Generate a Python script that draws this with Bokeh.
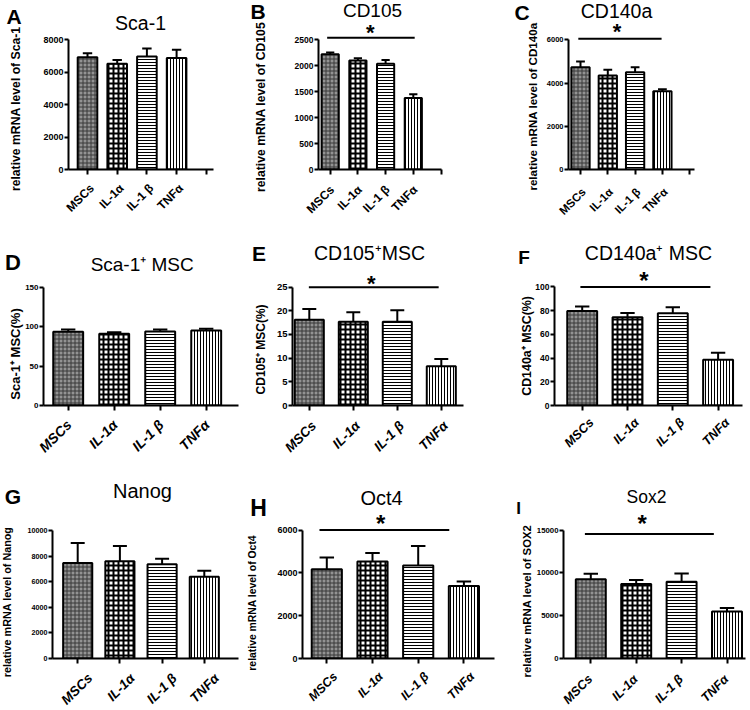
import math
from bokeh.plotting import figure
from bokeh.layouts import column, row
from bokeh.models import FixedTicker, Range1d
from bokeh.core.properties import value
from bokeh.embed import file_html
from bokeh.resources import INLINE

# ---------------- data ----------------
categories = ["MSCs", "IL-1α", "IL-1 β", "TNFα"]

sca1_mrna = [6920, 6520, 6960, 6870]
sca1_mrna_err = [240, 220, 500, 510]
sca1_mrna_ticks = [0, 2000, 4000, 6000, 8000]

cd105_mrna = [2220, 2100, 2035, 1375]
cd105_mrna_err = [35, 45, 75, 75]
cd105_mrna_ticks = [0, 500, 1000, 1500, 2000, 2500]

cd140a_mrna = [4730, 4350, 4500, 3620]
cd140a_mrna_err = [270, 260, 230, 90]
cd140a_mrna_ticks = [0, 2000, 4000, 6000]

sca1_pct = [93.8, 91.0, 94.0, 95.2]
sca1_pct_err = [2.6, 2.0, 2.4, 2.3]
sca1_pct_ticks = [0, 50, 100, 150]

cd105_pct = [18.1, 17.7, 17.7, 8.3]
cd105_pct_err = [2.3, 2.0, 2.4, 1.5]
cd105_pct_ticks = [0, 5, 10, 15, 20, 25]

cd140a_pct = [79.7, 74.4, 77.9, 38.7]
cd140a_pct_err = [3.8, 3.7, 5.1, 5.8]
cd140a_pct_ticks = [0, 20, 40, 60, 80, 100]

nanog = [7450, 7600, 7360, 6380]
nanog_err = [1570, 1180, 440, 470]
nanog_ticks = [0, 2000, 4000, 6000, 8000, 10000]

oct4 = [4170, 4530, 4340, 3390]
oct4_err = [550, 400, 920, 210]
oct4_ticks = [0, 2000, 4000, 6000]

sox2 = [9280, 8700, 8990, 5500]
sox2_err = [620, 470, 950, 400]
sox2_ticks = [0, 5000, 10000, 15000]

# significance bars (MSCs vs TNFα): level in data units
sig_levels = {"B": 2540, "C": 6045, "E": 25, "F": 100, "H": 6000, "I": 14560}
sig_text = "*"

panels = [
    dict(key="A", title="Sca-1", ylabel="relative mRNA level of Sca-1",
         values=sca1_mrna, errors=sca1_mrna_err, yticks=sca1_mrna_ticks),
    dict(key="B", title="CD105", ylabel="relative mRNA level of CD105",
         values=cd105_mrna, errors=cd105_mrna_err, yticks=cd105_mrna_ticks),
    dict(key="C", title="CD140a", ylabel="relative mRNA level of CD140a",
         values=cd140a_mrna, errors=cd140a_mrna_err, yticks=cd140a_mrna_ticks),
    dict(key="D", title="Sca-1⁺ MSC", ylabel="Sca-1⁺ MSC(%)",
         values=sca1_pct, errors=sca1_pct_err, yticks=sca1_pct_ticks),
    dict(key="E", title="CD105⁺MSC", ylabel="CD105⁺ MSC(%)",
         values=cd105_pct, errors=cd105_pct_err, yticks=cd105_pct_ticks),
    dict(key="F", title="CD140a⁺ MSC", ylabel="CD140a⁺ MSC(%)",
         values=cd140a_pct, errors=cd140a_pct_err, yticks=cd140a_pct_ticks),
    dict(key="G", title="Nanog", ylabel="relative mRNA level of Nanog",
         values=nanog, errors=nanog_err, yticks=nanog_ticks),
    dict(key="H", title="Oct4", ylabel="relative mRNA level of Oct4",
         values=oct4, errors=oct4_err, yticks=oct4_ticks),
    dict(key="I", title="Sox2", ylabel="relative mRNA level of SOX2",
         values=sox2, errors=sox2_err, yticks=sox2_ticks),
]

# ---------------- layout / style ----------------
FONT = "Liberation Sans"
COL_OFS = [0, 247, 499]
COL_W = [247, 252, 251]
ROW_OFS = [0, 236, 472]
ROW_H = [236, 236, 238]

LAYOUT = {
    "A": dict(col=0, row=0, axis_x=68.3, zero_y=172.7, top_y=38.3, c1=87.0, dx=29.7, x_end=213.0, nt=5, barw=0.66,
              letter=(13.5, 14, 21), title=(140, 21.5, 19.5), ylab=(15, 110, 12.2), tick=9,
              cat=12, cat_style="bold", catoff=(3, 16)),
    "B": dict(col=1, row=0, axis_x=317.7, zero_y=172.0, top_y=39.3, c1=329.7, dx=27.7, x_end=441.0, nt=5, barw=0.62,
              letter=(257.5, 10.5, 21), title=(372, 9.5, 19), ylab=(260, 108, 12.2), tick=8.5,
              cat=12, cat_style="bold", catoff=(0.5, 17),
              span=(-0.11, 0.05), star=(2.45, 6.6, 22)),
    "C": dict(col=2, row=0, axis_x=567.7, zero_y=169.0, top_y=39.3, c1=580.0, dx=27.3, x_end=694.3, nt=5, barw=0.67,
              letter=(521.5, 11.5, 21), title=(616, 10, 19.5), ylab=(531.7, 106, 11.6), tick=7.5,
              cat=11.5, cat_style="bold", catoff=(1.7, 19)),
    "D": dict(col=0, row=1, axis_x=43.3, zero_y=405.0, top_y=274.3, c1=67.7, dx=46.0, x_end=238.0, nt=4, barw=0.65,
              letter=(12.5, 247, 22), title=(141.7, 248.5, 19), ylab=(15, 348, 13), tick=8,
              cat=14, cat_style="bold italic", catoff=(-0.7, 17)),
    "E": dict(col=1, row=1, axis_x=291.7, zero_y=406.7, top_y=286.7, c1=308.8, dx=44.0, x_end=463.3, nt=4, barw=0.66,
              letter=(258.5, 252.5, 21), title=(369, 251.5, 19.5), ylab=(260, 350, 12), tick=9.5,
              cat=13.5, cat_style="bold italic", catoff=(3, 17),
              span=(-0.01, -0.06), star=(2.41, 5.7, 22)),
    "F": dict(col=2, row=1, axis_x=554.3, zero_y=410.7, top_y=285.7, c1=581.7, dx=45.3, x_end=741.7, nt=4, barw=0.66,
              letter=(523.5, 254.5, 19), title=(648, 250, 19.5), ylab=(526.7, 348, 12.4), tick=8.5,
              cat=12.7, cat_style="bold italic", catoff=(8, 14.5),
              span=(-0.04, -0.17), star=(2.36, 9, 24)),
    "G": dict(col=0, row=2, axis_x=51.7, zero_y=659.0, top_y=530.0, c1=77.2, dx=42.2, x_end=238.3, nt=4, barw=0.69,
              letter=(12.5, 495.5, 21), title=(142, 490, 20), ylab=(6.5, 602, 10.8), tick=7.2,
              cat=13.5, cat_style="bold italic", catoff=(11, 16)),
    "H": dict(col=1, row=2, axis_x=302.3, zero_y=661.7, top_y=519.0, c1=326.3, dx=45.7, x_end=494.0, nt=4, barw=0.66,
              letter=(258, 494, 23), title=(381, 483.5, 20), ylab=(252, 600, 10.4), tick=9,
              cat=12.5, cat_style="bold italic", catoff=(7, 16.5),
              span=(-0.16, -0.32), star=(2.18, 9.7, 24)),
    "I": dict(col=2, row=2, axis_x=563.3, zero_y=658.3, top_y=521.0, c1=590.3, dx=45.4, x_end=745.0, nt=4, barw=0.66,
              letter=(518, 497.5, 17), title=(646, 485, 17.5), ylab=(526.7, 596.7, 11.3), tick=7.8,
              cat=12.7, cat_style="bold italic", catoff=(-2, 18),
              span=(-0.13, -0.29), star=(2.13, 13.3, 24)),
}
LAYOUT["C"].update(span=(-0.08, -0.03), star=(2.34, 9, 22))

BAR_STYLES = [
    dict(fill_color="#939393", hatch_pattern="cross", hatch_color="#383838", hatch_scale=4, hatch_weight=1),
    dict(fill_color="white", hatch_pattern="cross", hatch_color="black", hatch_scale=5, hatch_weight=2),
    dict(fill_color="white", hatch_pattern="horizontal_line", hatch_color="black", hatch_scale=3, hatch_weight=1),
    dict(fill_color="white", hatch_pattern="vertical_line", hatch_color="black", hatch_scale=3, hatch_weight=1),
]


def add_text(p, x, y, text, size, style="normal", angle=0.0, align="center"):
    p.text(x=[x], y=[y], text=[text], text_font=value(FONT), text_font_size=value(f"{size}px"),
           text_font_style=style, text_align=align, text_baseline="middle",
           angle=angle, text_color="black", level="overlay")


def make_panel(spec):
    lay = LAYOUT[spec["key"]]
    c, r = lay["col"], lay["row"]
    W, H = COL_W[c], ROW_H[r]
    ticks = spec["yticks"]
    ymax = ticks[-1]
    ax = lay["axis_x"] - COL_OFS[c]
    zero = lay["zero_y"] - ROW_OFS[r]
    top = lay["top_y"] - ROW_OFS[r]
    L = int(round(ax))
    T = int(round(top - 4))
    Bm = int(round(H - zero))
    R = int(round(W - (lay["x_end"] - COL_OFS[c])))
    fw = W - L - R
    fh = H - T - Bm
    fb = H - Bm  # frame bottom pixel (local)
    y_end = ymax * fh / (fb - top)
    dx = lay["dx"]
    x0 = 1 - (lay["c1"] - COL_OFS[c] - L) / dx
    x1 = x0 + fw / dx

    def px2x(ref_x):
        return x0 + (ref_x - COL_OFS[c] - L) / dx

    def py2y(ref_y):
        return (fb - (ref_y - ROW_OFS[r])) * y_end / fh

    p = figure(width=W, height=H, x_range=Range1d(x0, x1), y_range=Range1d(0, y_end),
               min_border_left=L, min_border_right=R, min_border_top=T, min_border_bottom=Bm,
               output_backend="svg", toolbar_location=None, tools="")
    p.outline_line_color = None
    p.grid.visible = False
    p.background_fill_color = "white"
    p.border_fill_color = "white"

    for a in (p.xaxis[0], p.yaxis[0]):
        a.axis_line_width = 2
        a.axis_line_color = "black"
        a.major_tick_line_width = 2
        a.major_tick_line_color = "black"
        a.major_tick_in = 0
        a.minor_tick_line_color = None
        a.major_label_text_font = FONT
        a.major_label_text_color = "black"
    xa = p.xaxis[0]
    xa.ticker = FixedTicker(ticks=list(range(1, lay["nt"] + 1)))
    xa.major_label_overrides = {i + 1: "" for i in range(lay["nt"])}
    xa.major_tick_out = 5
    ya = p.yaxis[0]
    ya.ticker = FixedTicker(ticks=ticks)
    ya.bounds = (0, ymax)
    ya.major_tick_out = 4
    ya.major_label_standoff = 1
    ya.major_label_text_font_size = f"{lay['tick']}px"
    ya.major_label_text_font_style = "bold"

    bw = lay["barw"]
    ox, oy = lay["catoff"]
    for i, (v, e) in enumerate(zip(spec["values"], spec["errors"])):
        xc = i + 1
        p.segment(x0=[xc], y0=[v], x1=[xc], y1=[v + e], line_color="black", line_width=2)
        p.segment(x0=[xc - bw * 0.24], y0=[v + e], x1=[xc + bw * 0.24], y1=[v + e],
                  line_color="black", line_width=2)
        p.vbar(x=[xc], top=[v], width=bw, line_color="black", line_width=2, **BAR_STYLES[i])
        # category label (rotated 45 degrees, ends under the tick)
        add_text(p, xc + (ox + 1.5) / dx, py2y(lay["zero_y"] + oy + 1.5), categories[i],
                 lay["cat"], lay["cat_style"], angle=math.pi / 4, align="right")

    key = spec["key"]
    if key in sig_levels:
        lvl = sig_levels[key]
        a0, a1 = lay["span"]
        p.segment(x0=[1 + a0], y0=[lvl], x1=[len(categories) + a1], y1=[lvl],
                  line_color="black", line_width=2)
        sx, off, ssize = lay["star"]
        lvl_px = fb - lvl * fh / y_end
        star_px = lvl_px - off + 0.08 * ssize
        add_text(p, sx, (fb - star_px) * y_end / fh, sig_text, ssize, "bold")

    lx, ly, ls = lay["letter"]
    add_text(p, px2x(lx), py2y(ly), key, ls, "bold")
    tx, ty, ts = lay["title"]
    add_text(p, px2x(tx), py2y(ty), spec["title"], ts, "normal")
    yx, yy, ys = lay["ylab"]
    add_text(p, px2x(yx), py2y(yy), spec["ylabel"], ys, "bold", angle=math.pi / 2)
    return p


figs = [make_panel(s) for s in panels]
layout = column(row(*figs[0:3]), row(*figs[3:6]), row(*figs[6:9]))

open("out.html", "w").write(file_html(layout, INLINE))
